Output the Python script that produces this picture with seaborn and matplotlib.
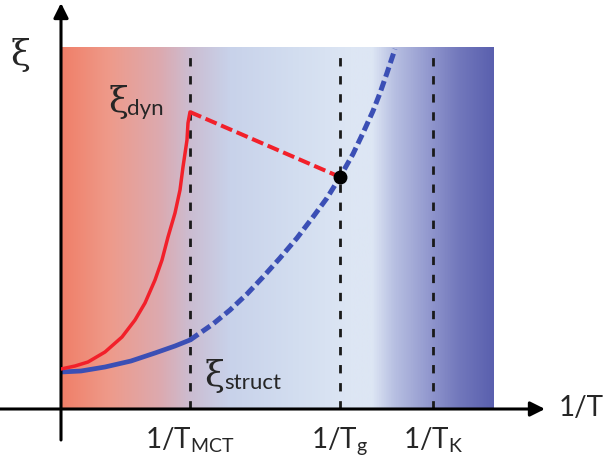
import numpy as np
import matplotlib
matplotlib.use('Agg')
import matplotlib.pyplot as plt
from matplotlib.colors import LinearSegmentedColormap
import seaborn as sns

# Schematic values (arbitrary units, origin at the axes corner)
struct_x = [0, 20, 44, 70, 94, 114, 129]
struct_y = [37, 38, 42, 48, 56, 63, 69]
struct_dash_x = [129, 152, 169, 186, 202, 219, 236, 252, 266, 279, 292, 302, 312, 319, 326, 334]
struct_dash_y = [69, 85, 99, 115, 132, 151, 171, 192, 211, 232, 255, 276, 298, 316, 336, 360]
dyn_x = [0, 14, 27, 44, 61, 74, 84, 94, 101, 107, 114, 119, 122, 126, 127, 129]
dyn_y = [40, 43, 47, 57, 72, 89, 106, 129, 149, 172, 196, 219, 242, 269, 286, 297]
dyn_dash_x = [129, 279]
dyn_dash_y = [297, 232]
temps = [129, 279, 372]
temp_labels = [r'1/T$_{\mathrm{MCT}}$', r'1/T$_{\mathrm{g}}$', r'1/T$_{\mathrm{K}}$']
box_right, box_top = 433, 361

# background gradient stops (relative position, colour)
bg_stops = [(0.0, '#f07f68'), (0.11, '#ee9a8a'), (0.23, '#dcaab0'), (0.30, '#cbbdd2'),
            (0.39, '#c8d2ea'), (0.55, '#d3def0'), (0.67, '#dde6f4'), (0.72, '#dde6f4'),
            (0.77, '#b8c0e2'), (0.86, '#8e94cc'), (0.92, '#7278bc'), (1.0, '#5a60ae')]

sns.set_style('white')
plt.rcParams['font.family'] = ['Lato', 'DejaVu Sans']
plt.rcParams['mathtext.fontset'] = 'custom'
plt.rcParams['mathtext.rm'] = 'Lato'

fig = plt.figure(figsize=(6.07, 4.65), dpi=100)
ax = fig.add_axes([61 / 607, 56 / 465, 484 / 607, 406 / 465])
ax.set_xlim(0, 484)
ax.set_ylim(0, 406)
for s in ax.spines.values():
    s.set_visible(False)

cmap = LinearSegmentedColormap.from_list('bg', bg_stops)
ax.imshow(np.linspace(0, 1, 512)[None, :], cmap=cmap, aspect='auto',
          extent=(0, box_right, 0, box_top), zorder=0)

ax.vlines(temps, 0, box_top, colors='#1a1a1a', lw=2, linestyles=(0, (3, 3.5)), zorder=2)

red = '#f2202a'
blue = '#3b4fb5'
sns.lineplot(x=struct_x, y=struct_y, ax=ax, color=blue, lw=3.4, sort=False, zorder=3)
sns.lineplot(x=struct_dash_x, y=struct_dash_y, ax=ax, color=blue, lw=3.6, sort=False,
             zorder=3).lines[-1].set_dashes((2, 0.9))
sns.lineplot(x=dyn_x, y=dyn_y, ax=ax, color=red, lw=2.5, sort=False, zorder=4)
sns.lineplot(x=dyn_dash_x, y=dyn_dash_y, ax=ax, color=red, lw=2.9, sort=False,
             zorder=4).lines[-1].set_dashes((3, 1.2))
ax.plot(dyn_dash_x[-1], dyn_dash_y[-1], 'o', color='black', ms=9, zorder=5)

# axes with arrows
arrow = dict(arrowstyle='-|>', lw=2.2, color='black', mutation_scale=22, shrinkA=0, shrinkB=0)
ax.annotate('', xy=(484, 0), xytext=(-61, 0), arrowprops=arrow, annotation_clip=False)
ax.annotate('', xy=(0, 406), xytext=(0, -31), arrowprops=arrow, annotation_clip=False)

ax.set_xticks(temps)
ax.set_xticklabels(temp_labels, fontsize=20)
ax.tick_params(axis='x', length=0, pad=12)
ax.set_yticks([])

ax.text(520, 1, '1/T', fontsize=20, ha='center', va='center')
ax.text(-40, 354, 'ξ', fontsize=26, family='DejaVu Serif', ha='center', va='center')
ax.text(58, 307, 'ξ', fontsize=26, family='DejaVu Serif', ha='center', va='center')
ax.text(66, 300, 'dyn', fontsize=16, ha='left', va='center')
ax.text(154, 33, 'ξ', fontsize=26, family='DejaVu Serif', ha='center', va='center')
ax.text(163, 26, 'struct', fontsize=16, ha='left', va='center')

fig.savefig('out.png', dpi=100)
